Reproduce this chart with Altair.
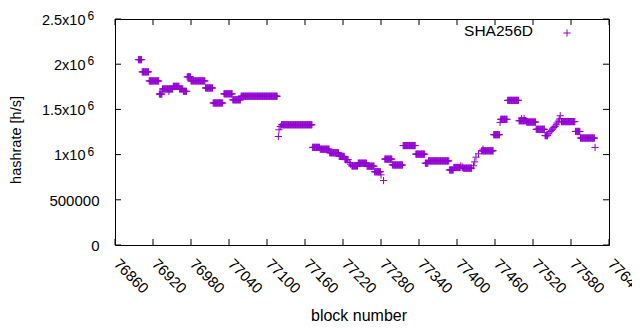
import altair as alt
import pandas as pd

# Runs of consecutive blocks that share one hashrate value
seg_start = [76897, 76903, 76914, 76930, 76935, 76945, 76952, 76962, 76968, 76974,
             76980, 77003, 77015, 77032, 77046, 77059, 77118, 77119, 77121, 77123,
             77172, 77184, 77199, 77214, 77223, 77230, 77232, 77234, 77244, 77258,
             77270, 77280, 77284, 77286, 77298, 77299, 77315, 77335, 77350, 77355,
             77388, 77395, 77406, 77408, 77410, 77426, 77428, 77430, 77434, 77439,
             77441, 77458, 77468, 77469, 77480, 77498, 77502, 77506, 77510, 77525,
             77539, 77545, 77547, 77549, 77551, 77553, 77555, 77557, 77558, 77560,
             77562, 77563, 77565, 77587, 77595, 77618]
seg_end = [76902, 76913, 76929, 76934, 76951, 76945, 76961, 76967, 76973, 76979,
           77002, 77014, 77030, 77045, 77058, 77116, 77118, 77119, 77121, 77171,
           77183, 77198, 77213, 77222, 77228, 77230, 77232, 77243, 77257, 77269,
           77279, 77280, 77284, 77297, 77298, 77314, 77334, 77349, 77354, 77387,
           77394, 77405, 77406, 77409, 77423, 77426, 77428, 77430, 77434, 77457,
           77441, 77467, 77468, 77479, 77497, 77509, 77502, 77506, 77524, 77538,
           77543, 77545, 77547, 77549, 77551, 77553, 77555, 77557, 77558, 77560,
           77562, 77563, 77586, 77594, 77617, 77618]
seg_value = [2050000, 1915000, 1815000, 1670000, 1726000, 1700000, 1755000, 1726000, 1700000, 1860000,
             1815000, 1737000, 1571000, 1672000, 1606000, 1646000, 1200000, 1275000, 1310000, 1330000,
             1080000, 1060000, 1020000, 980000, 945000, 912000, 894000, 875000, 905000, 872000,
             810000, 776000, 713000, 950000, 887000, 885000, 1100000, 1005000, 905000, 930000,
             830000, 857000, 876000, 860000, 850000, 876000, 920000, 972000, 1009000, 1042000,
             1061000, 1220000, 1356000, 1390000, 1600000, 1375000, 1400000, 1400000, 1360000, 1280000,
             1210000, 1230000, 1256000, 1270000, 1283000, 1300000, 1312000, 1330000, 1350000, 1370000,
             1394000, 1430000, 1365000, 1256000, 1183000, 1079000]

x_ticks = [76860, 76920, 76980, 77040, 77100, 77160, 77220, 77280, 77340, 77400, 77460, 77520, 77580, 77640]
x_labels = [str(t) for t in x_ticks]
y_ticks = [0, 500000, 1000000, 1500000, 2000000, 2500000]
y_main = ["0", "500000", "1x10", "1.5x10", "2x10", "2.5x10"]
y_sup = ["", "", "6", "6", "6", "6"]
series_name = "SHA256D"
x_title = "block number"
y_title = "hashrate [h/s]"

rows = []
for s, e, v in zip(seg_start, seg_end, seg_value):
    for b in range(s, e + 1):
        rows.append({"block": b, "hashrate": v})
df = pd.DataFrame(rows)

W, H = 494, 226
FONT = "Liberation Sans"
COLOR = "#9400D3"
PLUS = "M-1,0L1,0M0,-1L0,1"
xs = alt.Scale(domain=[x_ticks[0], x_ticks[-1]], nice=False, zero=False)
ys = alt.Scale(domain=[y_ticks[0], y_ticks[-1]], nice=False)

points = alt.Chart(df).mark_point(
    shape=PLUS, filled=False, strokeWidth=1, size=52, color=COLOR, opacity=1
).encode(
    x=alt.X("block:Q", scale=xs, axis=None),
    y=alt.Y("hashrate:Q", scale=ys, axis=None),
)

xt = pd.DataFrame({"t": x_ticks, "label": x_labels})
yt = pd.DataFrame({"t": y_ticks, "main": y_main, "sup": y_sup})

tick_x_bottom = alt.Chart(xt).mark_rule(color="black", strokeWidth=1).encode(
    x=alt.X("t:Q", scale=xs, axis=None), y=alt.value(H), y2=alt.value(H - 6))
tick_x_top = alt.Chart(xt).mark_rule(color="black", strokeWidth=1).encode(
    x=alt.X("t:Q", scale=xs, axis=None), y=alt.value(0), y2=alt.value(6))
tick_y_left = alt.Chart(yt).mark_rule(color="black", strokeWidth=1).encode(
    y=alt.Y("t:Q", scale=ys, axis=None), x=alt.value(0), x2=alt.value(6))
tick_y_right = alt.Chart(yt).mark_rule(color="black", strokeWidth=1).encode(
    y=alt.Y("t:Q", scale=ys, axis=None), x=alt.value(W - 6), x2=alt.value(W))

xlab = alt.Chart(xt).mark_text(
    align="left", baseline="middle", angle=45, font=FONT, fontSize=15, color="black", dx=2
).encode(x=alt.X("t:Q", scale=xs, axis=None), y=alt.value(H + 15), text="label:N")

ylab_plain = alt.Chart(yt).transform_filter("datum.sup == ''").mark_text(
    align="right", baseline="middle", font=FONT, fontSize=15, color="black", dy=1
).encode(y=alt.Y("t:Q", scale=ys, axis=None), x=alt.value(-15.5), text="main:N")
ylab_main = alt.Chart(yt).transform_filter("datum.sup != ''").mark_text(
    align="right", baseline="middle", font=FONT, fontSize=14.5, color="black", dy=1.5
).encode(y=alt.Y("t:Q", scale=ys, axis=None), x=alt.value(-29.5), text="main:N")
ylab_sup = alt.Chart(yt).transform_filter("datum.sup != ''").mark_text(
    align="left", baseline="middle", font=FONT, fontSize=12, color="black", dy=-3
).encode(y=alt.Y("t:Q", scale=ys, axis=None), x=alt.value(-27.5), text="sup:N")

title_df = pd.DataFrame({"xt": [x_title], "yt": [y_title]})
xtitle = alt.Chart(title_df).mark_text(
    align="center", baseline="middle", font=FONT, fontSize=16, color="black"
).encode(x=alt.value(244), y=alt.value(H + 71), text="xt:N")
ytitle = alt.Chart(title_df).mark_text(
    align="center", baseline="middle", angle=270, font=FONT, fontSize=14.5, color="black"
).encode(x=alt.value(-98), y=alt.value(121), text="yt:N")

leg_df = pd.DataFrame({"label": [series_name]})
leg_text = alt.Chart(leg_df).mark_text(
    align="right", baseline="middle", font=FONT, fontSize=15.5, color="black"
).encode(x=alt.value(418), y=alt.value(12), text="label:N")
leg_mark = alt.Chart(leg_df).mark_point(
    shape=PLUS, filled=False, strokeWidth=1, size=52, color=COLOR, opacity=1
).encode(x=alt.value(452), y=alt.value(14))

chart = alt.layer(
    points, tick_x_bottom, tick_x_top, tick_y_left, tick_y_right,
    xlab, ylab_plain, ylab_main, ylab_sup, xtitle, ytitle, leg_text, leg_mark
).properties(
    width=W, height=H,
    autosize=alt.AutoSizeParams(type="none"),
    padding={"left": 107, "top": 11, "right": 23, "bottom": 78},
    background="white",
).configure_view(stroke="black", strokeWidth=1)

chart.save("out.html", embed_options={"renderer": "svg", "actions": False})
